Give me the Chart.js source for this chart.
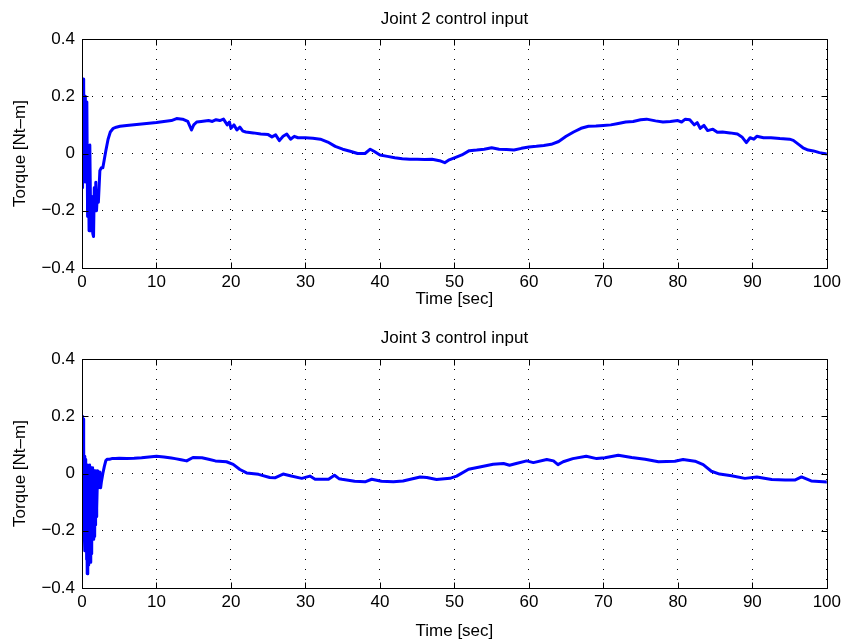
<!DOCTYPE html>
<html><head><meta charset="utf-8">
<script src="https://cdn.jsdelivr.net/npm/chart.js@4.4.0/dist/chart.umd.min.js"></script>
<style>
html,body{margin:0;padding:0;background:#fff;}
#wrap{position:relative;width:845px;height:643px;overflow:hidden;background:#fff;}
.c{position:absolute;left:0;width:845px;height:322px;}
</style></head><body>
<div id="wrap">
<div class="c" style="top:0px"><canvas id="c1" width="845" height="322"></canvas></div>
<div class="c" style="top:321px"><canvas id="c2" width="845" height="322"></canvas></div>
</div>
<script>
// ---- data ----
const joint2Time = [0,0.05,0.1,0.15,0.2,0.25,0.3,0.35,0.4,0.45,0.55,0.65,0.75,0.85,0.95,1.05,1.15,1.25,1.35,1.45,1.55,1.65,1.75,1.85,1.95,2.05,2.2,2.4,2.6,2.8,3.0,3.2,3.5,3.8,4.2,4.6,5.1,
 6,8,10,11,12,12.7,13.5,14.2,14.7,15.0,15.4,16,17,17.5,18,18.5,19,19.5,19.8,20,20.4,20.8,21.2,21.6,22,23,24,25,25.5,26,26.5,27,27.5,28,28.5,29,30,31,32,33,34,35,36,37,38,38.7,39.2,40,41,42,43,44,45,46,47,48,48.7,49.3,50,51,52,53,54,55,56,57,58,59,60,61,62,63,64,65,66,67,68,69,70,71,72,73,74,75,75.8,77,78,79,80,80.5,81,81.6,82.2,82.6,83,83.5,84,84.7,85.3,86,87,88,88.6,89.2,89.7,90.2,90.6,91.5,92.5,93.7,95,95.5,96.3,96.8,97.5,98.2,99,100];
const joint2Torque = [0.0,0.26,-0.12,0.26,-0.1,0.24,-0.05,0.2,-0.08,0.2,-0.1,0.18,-0.22,0.02,-0.27,0.03,-0.2,-0.27,-0.15,-0.28,-0.29,-0.12,-0.2,-0.1,-0.2,-0.15,-0.17,-0.06,-0.05,-0.05,-0.02,0.01,0.05,0.075,0.088,0.092,0.095,
 0.098,0.103,0.108,0.112,0.115,0.122,0.12,0.112,0.082,0.1,0.11,0.112,0.115,0.112,0.118,0.115,0.12,0.1,0.11,0.088,0.1,0.082,0.092,0.078,0.075,0.072,0.068,0.066,0.058,0.065,0.045,0.06,0.068,0.05,0.06,0.055,0.055,0.053,0.05,0.04,0.025,0.015,0.008,0.0,0.0,0.015,0.008,-0.005,-0.01,-0.015,-0.018,-0.02,-0.02,-0.021,-0.02,-0.025,-0.032,-0.022,-0.015,-0.005,0.01,0.012,0.015,0.02,0.015,0.014,0.012,0.018,0.023,0.025,0.028,0.032,0.042,0.06,0.075,0.088,0.095,0.096,0.098,0.1,0.105,0.11,0.112,0.118,0.12,0.114,0.11,0.112,0.115,0.11,0.12,0.118,0.1,0.108,0.088,0.098,0.08,0.085,0.074,0.075,0.072,0.068,0.058,0.038,0.055,0.05,0.06,0.055,0.055,0.052,0.05,0.046,0.03,0.02,0.012,0.009,0.003,-0.002];

const joint3Time = [0,0.05,0.1,0.15,0.2,0.25,0.3,0.35,0.4,0.45,0.5,0.55,0.6,0.65,0.7,0.75,0.8,0.85,0.9,0.95,1.0,1.05,1.1,1.15,1.2,1.25,1.3,1.35,1.4,1.45,1.5,1.55,1.6,1.65,1.7,1.75,1.8,1.85,1.9,1.95,2.0,2.1,2.2,2.3,2.4,2.5,2.6,2.8,3.0,3.2,3.4,3.7,4.0,4.5,5,
 6,7,8,9,10,11,12,12.5,13.3,14.05,14.9,16.1,17,17.9,19.4,20.3,21.2,22.1,23.7,25.2,25.9,27,28.1,29.5,30.6,31.3,33.1,33.9,34.5,34.9,36.6,38,38.9,40.2,41.8,43.1,45.4,46.3,47.6,49.4,50.3,51.9,53.4,55.2,56.6,57.4,58.3,59.7,60.6,62.4,63.3,63.9,64.6,65.9,67.7,69.1,70.2,72,73.8,75.6,77.4,79.6,80.7,82.3,83.4,84.5,85.6,87.2,89,90.6,92.6,94.4,95.7,96.6,97.9,100];
const joint3Torque = [0,0.2,-0.13,0.19,-0.1,0.1,-0.2,0.06,-0.27,0.05,-0.25,0.03,-0.3,0.02,-0.35,0.03,-0.34,0.01,-0.32,0.02,-0.28,0.03,-0.31,0.0,-0.25,0.02,-0.28,0.01,-0.22,0.02,-0.23,0.0,-0.2,0.01,-0.22,0.0,-0.18,0.01,-0.15,0.0,-0.12,0.01,-0.05,0.005,-0.04,-0.05,-0.03,0.0,0.025,0.045,0.05,0.05,0.052,0.052,0.053,
 0.052,0.053,0.055,0.058,0.06,0.058,0.054,0.052,0.048,0.044,0.056,0.055,0.05,0.044,0.041,0.032,0.014,0.002,-0.003,-0.014,-0.015,-0.002,-0.009,-0.017,-0.009,-0.02,-0.02,-0.006,-0.018,-0.02,-0.027,-0.029,-0.02,-0.027,-0.029,-0.026,-0.012,-0.014,-0.021,-0.017,-0.009,0.015,0.023,0.032,0.035,0.029,0.035,0.044,0.038,0.049,0.044,0.031,0.041,0.052,0.06,0.052,0.055,0.064,0.056,0.05,0.041,0.043,0.049,0.043,0.031,0.008,-0.002,-0.008,-0.017,-0.012,-0.021,-0.023,-0.023,-0.012,-0.026,-0.03];

const xTickValues = [0,10,20,30,40,50,60,70,80,90,100];
const xTickLabels = ['0','10','20','30','40','50','60','70','80','90','100'];
const yTickValues = [-0.4,-0.2,0,0.2,0.4];
const yTickLabels = ['\u22120.4','\u22120.2','0','0.2','0.4'];
const plotTitles = ['Joint 2 control input','Joint 3 control input'];
const xAxisLabel = 'Time [sec]';
const yAxisLabel = 'Torque [Nt\u2013m]';

const FONT = "'Liberation Sans', Arial, Helvetica, sans-serif";

const boxPlugin = {
  id: 'matlabBox',
  afterDraw(chart, args, opts) {
    const ctx = chart.ctx, a = chart.chartArea, xs = chart.scales.x, ys = chart.scales.y;
    const L = Math.round(a.left) + 0.5, R = Math.round(a.right) + 0.5;
    const T = Math.round(a.top) + 0.5, B = Math.round(a.bottom) + 0.5;
    ctx.save();
    ctx.strokeStyle = '#000';
    ctx.lineWidth = 1;
    ctx.beginPath();
    ctx.rect(L, T, R - L, B - T);
    ctx.stroke();
    const tl = 6;
    ctx.beginPath();
    xs.ticks.forEach(t => {
      const px = Math.round(xs.getPixelForValue(t.value)) + 0.5;
      ctx.moveTo(px, B); ctx.lineTo(px, B - tl);
      ctx.moveTo(px, T); ctx.lineTo(px, T + tl);
    });
    ys.ticks.forEach(t => {
      const py = Math.round(ys.getPixelForValue(t.value)) + 0.5;
      ctx.moveTo(L, py); ctx.lineTo(L + tl, py);
      ctx.moveTo(R, py); ctx.lineTo(R - tl, py);
    });
    ctx.stroke();
    // plot title centred over the axes
    ctx.fillStyle = '#000';
    ctx.font = '17px ' + FONT;
    ctx.textAlign = 'center';
    ctx.textBaseline = 'middle';
    ctx.fillText(opts.text, (a.left + a.right) / 2, opts.y);
    ctx.restore();
  }
};

function makeChart(id, times, values, title, g) {
  const pts = times.map((t, i) => ({x: t, y: values[i]}));
  return new Chart(document.getElementById(id), {
    type: 'line',
    data: { datasets: [{ data: pts, borderColor: '#0000ff', borderWidth: 3, pointRadius: 0, tension: 0, fill: false, borderJoinStyle: 'round', borderCapStyle: 'round' }] },
    options: {
      responsive: false, animation: false, devicePixelRatio: 1,
      layout: { padding: { left: 0, right: 18, top: g.top, bottom: 0 } },
      plugins: {
        legend: { display: false }, tooltip: { enabled: false }, title: { display: false },
        matlabBox: { text: title, y: g.titleY }
      },
      scales: {
        x: {
          type: 'linear', min: 0, max: 100,
          afterBuildTicks: s => { s.ticks = xTickValues.map(v => ({ value: v })); },
          afterFit: s => { s.height = g.xH; },
          ticks: { callback: (v) => xTickLabels[xTickValues.indexOf(v)], color: '#000', font: { family: FONT, size: 17 }, padding: 4, maxRotation: 0, autoSkip: false },
          grid: { color: '#000', lineWidth: 1, drawTicks: false },
          border: { display: false, dash: [1, 9] },
          title: { display: true, text: xAxisLabel, color: '#000', font: { family: FONT, size: 17 }, padding: { top: 0, bottom: g.xTitlePad } }
        },
        y: {
          type: 'linear', min: -0.4, max: 0.4,
          afterBuildTicks: s => { s.ticks = yTickValues.map(v => ({ value: v })); },
          afterFit: s => { s.width = 82; },
          ticks: { callback: (v) => { const i = yTickValues.findIndex(q => Math.abs(q - v) < 1e-9); return yTickLabels[i]; }, color: '#000', font: { family: FONT, size: 17 }, padding: 7, autoSkip: false },
          grid: { color: '#000', lineWidth: 1, drawTicks: false },
          border: { display: false, dash: [1, 9] },
          title: { display: true, text: yAxisLabel, color: '#000', font: { family: FONT, size: 17 }, padding: { top: 10, bottom: 0 } }
        }
      }
    },
    plugins: [boxPlugin]
  });
}

makeChart('c1', joint2Time, joint2Torque, plotTitles[0], { top: 39, titleY: 19, xH: 54, xTitlePad: 12 });
makeChart('c2', joint3Time, joint3Torque, plotTitles[1], { top: 38, titleY: 17, xH: 55, xTitlePad: 1 });
</script>
</body></html>
